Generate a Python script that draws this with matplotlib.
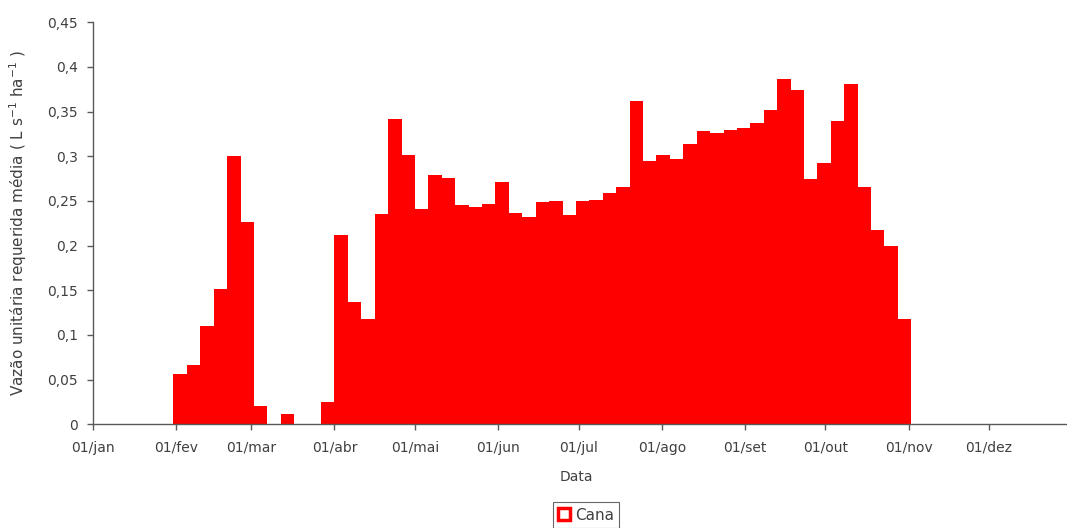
import numpy as np
import matplotlib
matplotlib.use("Agg")
import matplotlib.pyplot as plt
from matplotlib.patches import Patch

# 5-day periods (pentads) across the year: start day-of-year of each period
period_days = 5
pentad_start = np.arange(0, 365, period_days)

# Mean required unit flow (L s-1 ha-1) for each pentad
cana = [
    0, 0, 0, 0, 0, 0,
    0.056, 0.066, 0.110, 0.152, 0.300, 0.226, 0.020, 0.0, 0.012, 0.0,
    0.0, 0.025, 0.212, 0.137, 0.118, 0.235, 0.342, 0.301, 0.241, 0.279,
    0.276, 0.245, 0.243, 0.247, 0.271, 0.236, 0.232, 0.249, 0.250, 0.234,
    0.250, 0.251, 0.259, 0.266, 0.362, 0.295, 0.302, 0.297, 0.314, 0.328,
    0.326, 0.330, 0.332, 0.337, 0.352, 0.386, 0.374, 0.275, 0.293, 0.340,
    0.381, 0.266, 0.217, 0.200, 0.118,
    0, 0, 0, 0, 0, 0, 0, 0, 0, 0, 0, 0,
]

month_start_days = [0, 31, 59, 90, 120, 151, 181, 212, 243, 273, 304, 334]
month_labels = ["01/jan", "01/fev", "01/mar", "01/abr", "01/mai", "01/jun",
                "01/jul", "01/ago", "01/set", "01/out", "01/nov", "01/dez"]

y_ticks = [0, 0.05, 0.1, 0.15, 0.2, 0.25, 0.3, 0.35, 0.4, 0.45]
y_tick_labels = ["0", "0,05", "0,1", "0,15", "0,2", "0,25", "0,3", "0,35", "0,4", "0,45"]

W, H = 1067, 528
fig = plt.figure(figsize=(W / 100, H / 100), dpi=100)
left_px, right_px, bottom_px, top_px = 93, 1067, 424.3, 22.3
ax = fig.add_axes([left_px / W, 1 - bottom_px / H,
                   (right_px - left_px) / W, (bottom_px - top_px) / H])

ax.bar(pentad_start, cana, width=period_days, align="edge",
       color="#ff0000", linewidth=0)

ax.set_xlim(0, (right_px - left_px) / 2.683)
ax.set_ylim(0, 0.45)

axis_col = "#595959"
text_col = "#404040"
for s in ["top", "right"]:
    ax.spines[s].set_visible(False)
for s in ["left", "bottom"]:
    ax.spines[s].set_color(axis_col)
    ax.spines[s].set_linewidth(1.0)

ax.set_xticks(month_start_days)
ax.set_xticklabels(month_labels)
ax.set_yticks(y_ticks)
ax.set_yticklabels(y_tick_labels)
ax.tick_params(axis="y", direction="out", length=4, width=1, pad=7,
               colors=axis_col, labelcolor=text_col, labelsize=10)
ax.tick_params(axis="x", direction="out", length=4, width=1, pad=8,
               colors=axis_col, labelcolor=text_col, labelsize=10)

ax.set_ylabel(r"Vazão unitária requerida média ( L s$^{-1}$ ha$^{-1}$ )",
              fontsize=11, color=text_col)
ax.yaxis.set_label_coords((29 - left_px) / (right_px - left_px), 0.5)
ax.set_xlabel("Data", fontsize=10, color=text_col)
ax.xaxis.set_label_coords((576 - left_px) / (right_px - left_px),
                          (bottom_px - 470) / (bottom_px - top_px))

handle = Patch(facecolor="white", edgecolor="#ff0000", linewidth=2.5)
leg = fig.legend([handle], ["Cana"], loc="center",
                 bbox_to_anchor=(586 / W, 1 - 515 / H),
                 frameon=True, fancybox=False, fontsize=11,
                 handlelength=0.8, handleheight=0.8, handletextpad=0.3,
                 borderpad=0.35, borderaxespad=0)
leg.get_frame().set_edgecolor("#404040")
leg.get_frame().set_linewidth(0.8)
for t in leg.get_texts():
    t.set_color(text_col)

fig.savefig("out.png", dpi=100)
